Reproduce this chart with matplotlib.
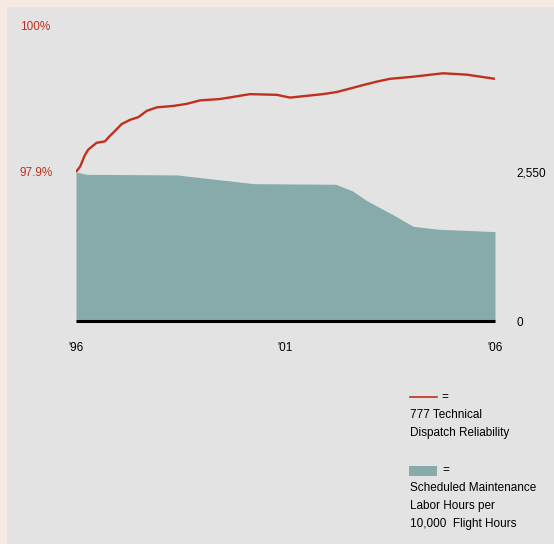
import matplotlib.pyplot as plt
from matplotlib.patches import Rectangle
from matplotlib.lines import Line2D

# 777 technical dispatch reliability (%)
rel_years = [1996.0, 1996.10, 1996.21, 1996.29, 1996.49, 1996.69, 1996.81, 1996.93,
             1997.09, 1997.29, 1997.49, 1997.69, 1997.93, 1998.32, 1998.64, 1998.96,
             1999.44, 1999.75, 2000.15, 2000.79, 2001.11, 2001.42, 2001.89, 2002.22,
             2002.54, 2002.85, 2003.18, 2003.49, 2004.04, 2004.76, 2005.33, 2006.0]
reliability = [97.90, 97.98, 98.14, 98.22, 98.32, 98.34, 98.42, 98.49,
               98.59, 98.65, 98.69, 98.78, 98.83, 98.85, 98.88, 98.93,
               98.95, 98.98, 99.02, 99.01, 98.97, 98.99, 99.02, 99.05,
               99.10, 99.15, 99.20, 99.24, 99.27, 99.32, 99.30, 99.24]

# scheduled maintenance labor hours per 10,000 flight hours
mx_years = [1996.0, 1996.25, 1998.4, 2000.25, 2002.2, 2002.6, 2002.95,
            2003.55, 2004.05, 2004.65, 2006.0]
labor_hours = [2550, 2510, 2500, 2350, 2340, 2225, 2055, 1825, 1620, 1570, 1530]

x_ticks = [1996, 2001, 2006]
x_labels = ["'96", "'01", "'06"]

RED = '#c0301e'
TEAL = '#86abaa'
BG = '#e3e3e3'
W, H = 554, 544

plt.rcParams['font.family'] = ['Liberation Sans Narrow', 'Liberation Sans', 'DejaVu Sans']

fig = plt.figure(figsize=(W / 100, H / 100), dpi=100, facecolor='#f6e9e2')
fig.patches.append(Rectangle((7 / W, 0), 1, 1 - 7 / H, transform=fig.transFigure,
                             facecolor=BG, edgecolor='none', zorder=0))

# axes box: x 76..495 px, y 26..321 px (from top)
ax = fig.add_axes([76 / W, (H - 321) / H, (495 - 76) / W, (321 - 26) / H])
ax.patch.set_visible(False)
ax2 = ax.twinx()
ax.set_zorder(2)
ax2.set_zorder(1)

ax2.fill_between(mx_years, labor_hours, 0, color=TEAL, lw=0)
ax2.set_ylim(0, 2550 * 295 / 149)
ax2.set_yticks([0, 2550], ['0', '2,550'])
ax2.tick_params(axis='y', length=0, pad=15.5, labelsize=8.5)

ax.plot(rel_years, reliability, color=RED, lw=1.7, solid_capstyle='butt')
ax.set_ylim(97.9 - 149 * 2.1 / 146, 100)
ax.set_xlim(1996, 2006)
ax.set_yticks([97.9, 100], ['97.9%', '100%'])
ax.tick_params(axis='y', length=0, pad=40.5, labelsize=8.5, labelcolor=RED)
for t in ax.get_yticklabels():
    t.set_ha('left')
ax.set_xticks(x_ticks, x_labels)
ax.tick_params(axis='x', length=0, pad=15, labelsize=8.5)

for a in (ax, ax2):
    for s in ('top', 'right', 'left'):
        a.spines[s].set_visible(False)
ax2.spines['bottom'].set_visible(False)
ax.spines['bottom'].set_linewidth(2.2)
ax.spines['bottom'].set_color('black')
ax.spines['bottom'].set_capstyle('butt')


def fx(px):
    return px / W


def fy(py):
    return 1 - py / H


# legend
fig.add_artist(Line2D([fx(410), fx(437)], [fy(397), fy(397)], color=RED, lw=1.2))
fig.text(fx(441), fy(397), '=', fontsize=8.5, va='center')
fig.text(fx(410), fy(415), '777 Technical', fontsize=8.5, va='center')
fig.text(fx(410), fy(433), 'Dispatch Reliability', fontsize=8.5, va='center')

fig.patches.append(Rectangle((fx(409), fy(476)), 28 / W, 10 / H, transform=fig.transFigure,
                             facecolor=TEAL, edgecolor='none'))
fig.text(fx(442), fy(470), '=', fontsize=8.5, va='center')
fig.text(fx(410), fy(488), 'Scheduled Maintenance', fontsize=8.5, va='center')
fig.text(fx(410), fy(506), 'Labor Hours per', fontsize=8.5, va='center')
fig.text(fx(410), fy(524), '10,000  Flight Hours', fontsize=8.5, va='center')

fig.savefig('out.png', dpi=100, facecolor=fig.get_facecolor())
